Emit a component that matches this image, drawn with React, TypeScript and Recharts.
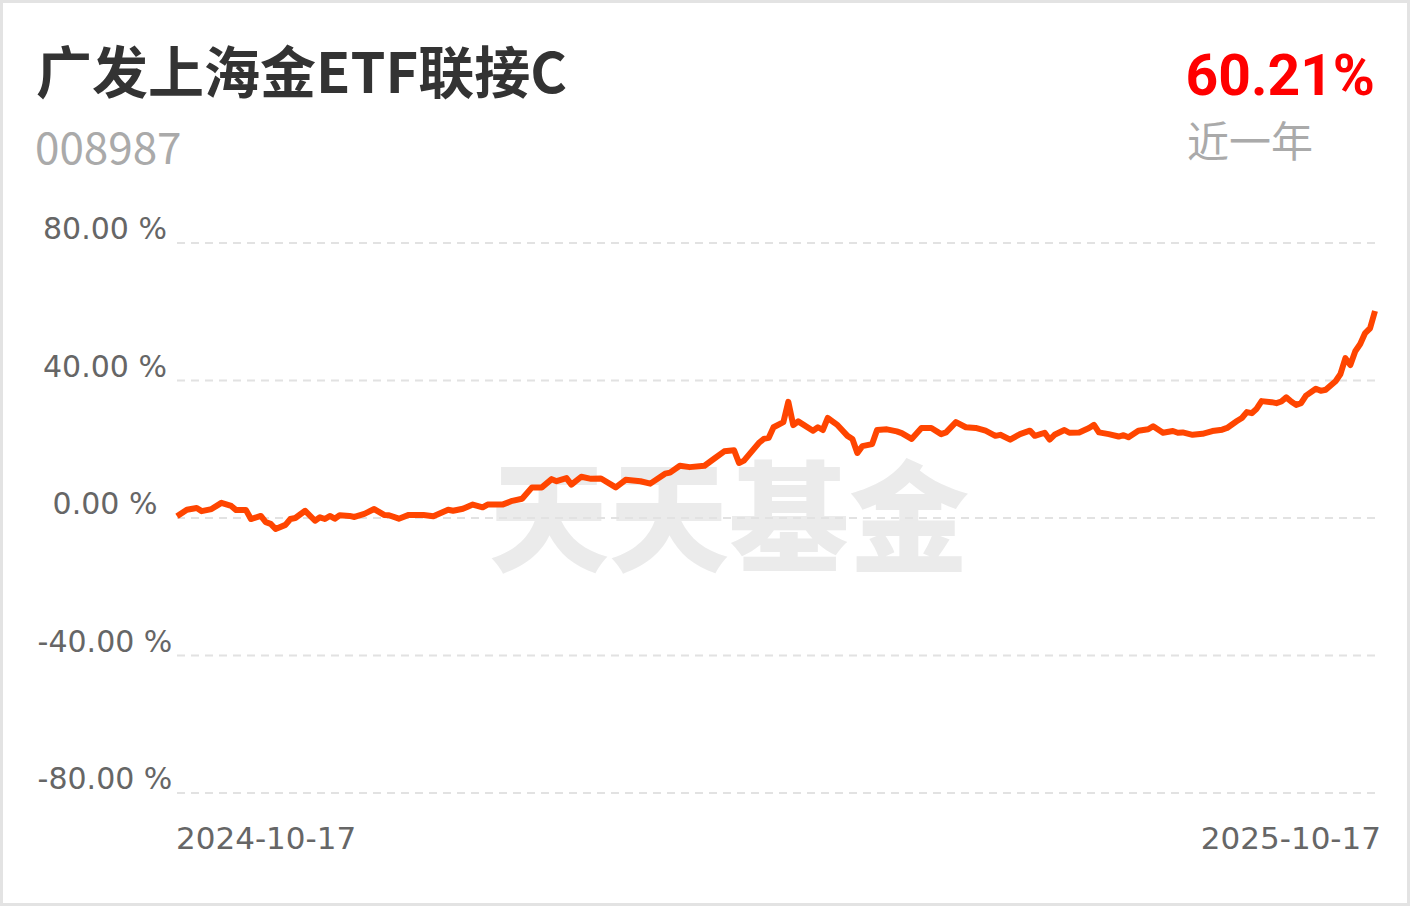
import React from "react";
import { LineChart, Line, XAxis, YAxis, CartesianGrid } from "recharts";

// trading-day index since 2024-10-17, and cumulative return (%)
const tradingDays = [
  0, 2, 4, 5, 7, 9, 11, 12, 14, 15, 17, 18, 19, 20, 22, 23, 24, 26, 28, 29,
  30, 31, 32, 33, 35, 36, 38, 40, 42, 43, 45, 47, 50, 52, 55, 56, 58, 60, 62, 63,
  66, 68, 70, 72, 74, 76, 77, 79, 80, 82, 84, 86, 89, 91, 94, 96, 99, 100, 102, 104,
  107, 109, 111, 113, 114, 115, 118, 119, 120, 121, 123, 124, 125, 126, 129, 130, 131, 132, 134, 136,
  137, 138, 139, 141, 142, 144, 146, 147, 149, 151, 153, 155, 156, 158, 160, 162, 164, 166, 167, 169,
  171, 173, 174, 176, 177, 178, 180, 181, 183, 185, 186, 187, 189, 191, 192, 193, 195, 197, 198, 200,
  202, 203, 204, 206, 208, 210, 212, 213, 215, 216, 217, 218, 219, 220, 222, 223, 224, 225, 226, 227,
  228, 229, 231, 232, 233, 235, 236, 237, 238, 239, 240, 241, 242, 243,
];
const returns = [
  0.5, 2.4, 2.9, 2.0, 2.6, 4.4, 3.5, 2.3, 2.3, -0.3, 0.6, -1.2, -1.7, -3.2, -2.0, -0.3, 0.0, 2.1, -0.8, 0.2,
  -0.3, 0.6, -0.2, 0.8, 0.6, 0.3, 1.2, 2.6, 0.9, 0.8, -0.2, 0.9, 0.9, 0.5, 2.4, 2.1, 2.7, 3.9, 3.1, 3.9,
  3.9, 5.0, 5.6, 8.9, 8.9, 11.3, 10.7, 11.6, 9.7, 12.0, 11.4, 11.5, 8.9, 11.1, 10.7, 10.0, 12.9, 13.2, 15.2, 14.8,
  15.2, 17.3, 19.4, 19.7, 16.0, 16.7, 21.8, 23.0, 23.3, 26.4, 27.9, 33.8, 27.0, 28.1, 25.4, 26.4, 25.6, 29.1, 27.0, 23.9,
  23.0, 18.9, 20.9, 21.5, 25.6, 25.8, 25.2, 24.7, 23.0, 26.2, 26.2, 24.4, 24.9, 27.9, 26.4, 26.2, 25.4, 23.9, 24.2, 22.8,
  24.4, 25.4, 23.9, 24.8, 22.8, 24.2, 25.6, 24.8, 24.9, 26.2, 27.1, 24.9, 24.4, 23.7, 24.1, 23.5, 25.4, 25.8, 26.7, 24.8,
  25.3, 24.8, 24.9, 24.2, 24.5, 25.3, 25.7, 26.2, 28.2, 29.1, 30.8, 30.5, 31.8, 34.0, 33.7, 33.4, 33.9, 35.1, 33.9, 32.9,
  33.4, 35.6, 37.6, 37.0, 37.3, 39.8, 41.9, 46.5, 44.5, 48.5, 50.6, 53.8, 55.2, 60.21,
];
const yTicks = [-80, -40, 0, 40, 80];
const dateLabels = ["2024-10-17", "2025-10-17"];
const dateTicks = [0, 243];

const data = tradingDays.map((day, i) => ({ day, value: returns[i] }));

const tickFont = "'DejaVu Sans', sans-serif";

// labels sit above their gridline, centred in the left gutter
const YTick = ({ x, y, payload }: any) => (
  <text
    x={x - 72}
    y={y - 4}
    textAnchor="middle"
    fill="#666"
    fontSize={30}
    fontFamily={tickFont}
  >
    {`${payload.value.toFixed(2)} %`}
  </text>
);

const XTick = ({ x, y, index }: any) => (
  <text
    x={index === 0 ? x - 1 : x + 6}
    y={y + 56}
    textAnchor={index === 0 ? "start" : "end"}
    fill="#666"
    fontSize={31}
    fontFamily={tickFont}
  >
    {dateLabels[index]}
  </text>
);

export default function App() {
  return (
    <div
      style={{
        position: "absolute",
        left: 0,
        top: 0,
        width: 1410,
        height: 906,
        boxSizing: "border-box",
        border: "3px solid #e3e3e3",
        background: "#fff",
        overflow: "hidden",
      }}
    >
      <div
        style={{
          position: "absolute",
          left: 33,
          top: 28,
          fontFamily: "'Noto Sans CJK SC', sans-serif",
          fontWeight: 700,
          fontSize: 56,
          lineHeight: "76px",
          color: "#333",
          whiteSpace: "nowrap",
        }}
      >
        广发上海金ETF联接C
      </div>
      <div
        style={{
          position: "absolute",
          left: 32,
          top: 112,
          fontFamily: "'Noto Sans CJK SC', sans-serif",
          fontSize: 44,
          lineHeight: "60px",
          color: "#aaa",
        }}
      >
        008987
      </div>
      <div
        style={{
          position: "absolute",
          right: 32,
          top: 35,
          fontFamily: "Roboto, sans-serif",
          fontWeight: 700,
          fontSize: 57,
          lineHeight: "76px",
          color: "#ff0000",
        }}
      >
        60.21%
      </div>
      <div
        style={{
          position: "absolute",
          left: 1184,
          top: 107,
          fontFamily: "'Noto Sans CJK SC', sans-serif",
          fontSize: 42,
          lineHeight: "58px",
          color: "#aaa",
        }}
      >
        近一年
      </div>
      <div
        style={{
          position: "absolute",
          left: 486,
          top: 428,
          fontFamily: "'Noto Sans CJK SC', sans-serif",
          fontWeight: 900,
          fontSize: 120,
          lineHeight: "160px",
          color: "#ebebeb",
          whiteSpace: "nowrap",
        }}
      >
        天天基金
      </div>
      <div style={{ position: "absolute", left: -3, top: -3 }}>
        <LineChart
          width={1410}
          height={906}
          data={data}
          margin={{ top: 243, right: 35, bottom: 0, left: 0 }}
        >
          <CartesianGrid
            vertical={false}
            stroke="#e2e2e2"
            strokeWidth={2}
            strokeDasharray="8 6"
          />
          <XAxis
            type="number"
            dataKey="day"
            domain={[0, 243]}
            ticks={dateTicks}
            axisLine={false}
            tickLine={false}
            tickSize={0}
            tickMargin={0}
            tick={<XTick />}
            height={113}
            interval={0}
          />
          <YAxis
            domain={[-80, 80]}
            ticks={yTicks}
            axisLine={false}
            tickLine={false}
            tickSize={0}
            tickMargin={0}
            tick={<YTick />}
            width={177}
            interval={0}
          />
          <Line
            type="linear"
            dataKey="value"
            stroke="#ff4500"
            strokeWidth={6}
            dot={false}
            strokeLinejoin="round"
            isAnimationActive={false}
          />
        </LineChart>
      </div>
    </div>
  );
}
